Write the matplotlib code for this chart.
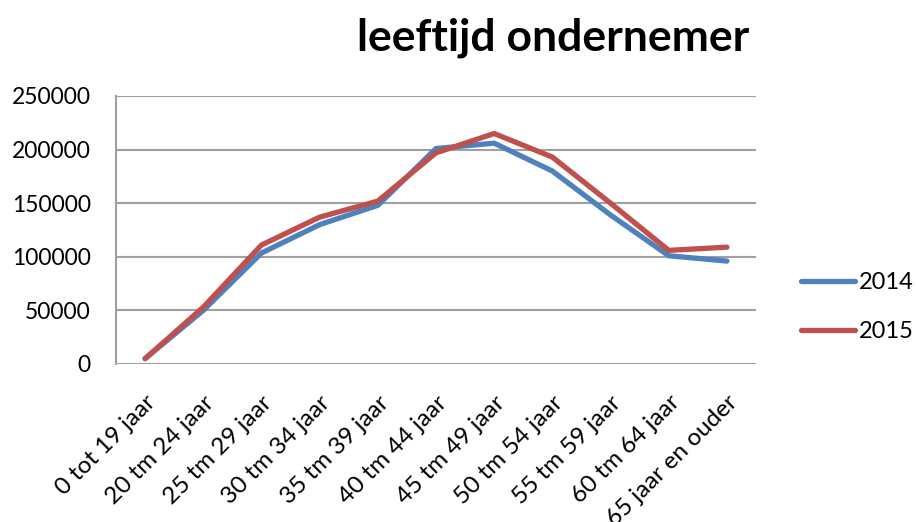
import matplotlib
matplotlib.use("Agg")
import matplotlib.pyplot as plt

# leeftijd ondernemer - 2014 vs 2015
categories = ["0 tot 19 jaar", "20 tm 24 jaar", "25 tm 29 jaar", "30 tm 34 jaar",
              "35 tm 39 jaar", "40 tm 44 jaar", "45 tm 49 jaar", "50 tm 54 jaar",
              "55 tm 59 jaar", "60 tm 64 jaar", "65 jaar en ouder"]
vals_2014 = [5000, 50000, 103500, 130000, 148000, 201000, 206000, 180000, 139000, 101000, 96000]
vals_2015 = [5000, 53000, 111000, 137000, 152000, 197000, 215000, 193000, 150000, 106000, 109000]
yticks = [0, 50000, 100000, 150000, 200000, 250000]

plt.rcParams["font.family"] = ["Lato", "DejaVu Sans"]

W, H = 916, 522
fig = plt.figure(figsize=(W / 100, H / 100), dpi=100)
ax = fig.add_axes([116 / W, (H - 364) / H, (756 - 116) / W, (364 - 96) / H])

x = range(len(categories))
ax.plot(x, vals_2014, color="#4F81BD", linewidth=3.8, solid_capstyle="round", label="2014")
ax.plot(x, vals_2015, color="#C0504D", linewidth=3.8, solid_capstyle="round", label="2015")

ax.set_xlim(-0.5, len(categories) - 0.5)
ax.set_ylim(0, 250000)
ax.set_yticks(yticks)
ax.set_yticklabels([str(v) for v in yticks], fontsize=16.5)
ax.set_xticks(list(x))
ax.set_xticklabels(categories, fontsize=17.5, rotation=45, ha="right", va="top",
                   rotation_mode="anchor")
ax.tick_params(axis="y", length=0, pad=18)
ax.tick_params(axis="x", length=0, pad=20)

ax.grid(axis="y", color="#A0A0A0", linewidth=1.5)
ax.set_axisbelow(True)
for s in ["top", "right", "bottom"]:
    ax.spines[s].set_visible(False)
ax.spines["left"].set_color("#A0A0A0")
ax.spines["left"].set_linewidth(1.5)

fig.text(553 / W, 1 - 38 / H, "leeftijd ondernemer", fontsize=32, fontweight="bold",
         ha="center", va="center")

fig.legend(loc="center left", bbox_to_anchor=(801 / W, 1 - 307 / H), frameon=False,
           fontsize=17, handlelength=2.3, handletextpad=0.15, labelspacing=1.2,
           borderpad=0, borderaxespad=0)

plt.savefig("out.png", dpi=100)
